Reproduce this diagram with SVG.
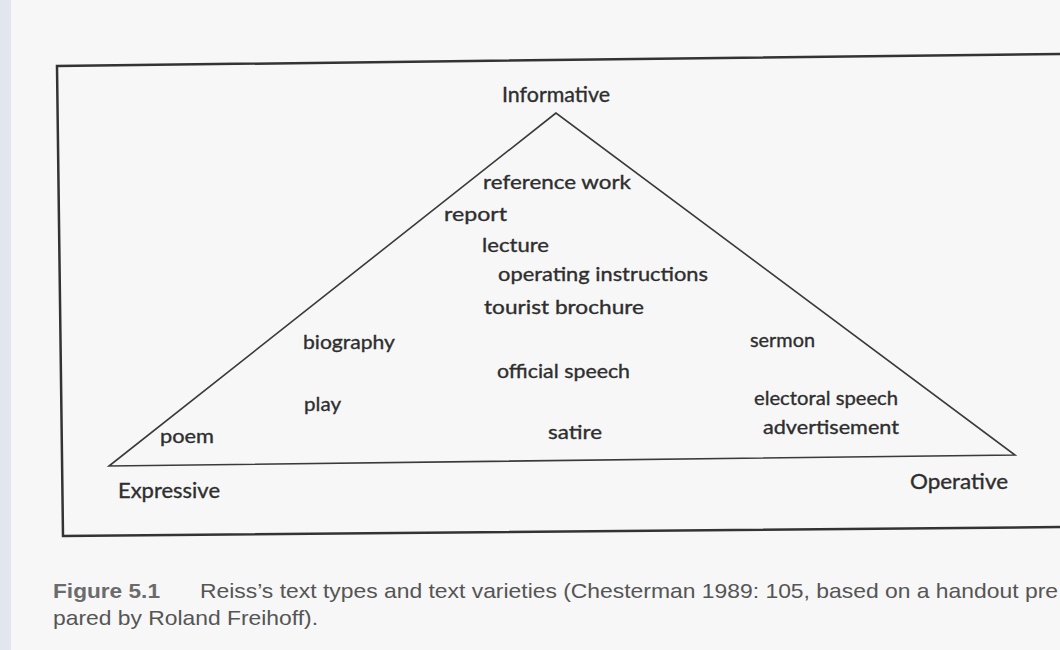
<svg xmlns="http://www.w3.org/2000/svg" width="1060" height="650" viewBox="0 0 1060 650">
<style>
.lbl{font-family:Lato,"Open Sans","Liberation Sans",sans-serif;font-size:20px;fill:#2e2e2e;stroke:#2e2e2e;stroke-width:0.35;}
.pole{font-family:Lato,"Open Sans","Liberation Sans",sans-serif;font-size:21px;fill:#2e2e2e;stroke:#2e2e2e;stroke-width:0.35;}
.cap{font-family:"Liberation Sans",Arial,sans-serif;font-size:21px;fill:#555;}
.capb{font-family:"Liberation Sans",Arial,sans-serif;font-size:21px;font-weight:bold;fill:#6b6b6b;}
.frame{fill:none;stroke:#333;stroke-width:2.5;}
.tri{fill:none;stroke:#3a3a3a;stroke-width:1.6;stroke-linejoin:miter;}
</style>
<rect x="0" y="0" width="1060" height="650" fill="#f7f7f7"/>
<rect x="0" y="0" width="11" height="650" fill="#e2e6ee"/>
<g id="frame">
<path class="frame" d="M1060,54 L57,66 L63,536 L1060,527"/>
</g>
<g id="connectors">
<path class="tri" d="M556,113 L109,466 L1015,455 Z"/>
</g>
<g id="informative"><text class="pole" x="502" y="102" textLength="108" lengthAdjust="spacingAndGlyphs">Informative</text></g>
<g id="expressive"><text class="pole" x="118" y="498" textLength="102" lengthAdjust="spacingAndGlyphs">Expressive</text></g>
<g id="operative"><text class="pole" x="910" y="489" textLength="98" lengthAdjust="spacingAndGlyphs">Operative</text></g>
<g id="reference-work"><text class="lbl" x="483" y="189" textLength="148" lengthAdjust="spacingAndGlyphs">reference work</text></g>
<g id="report"><text class="lbl" x="444" y="221" textLength="63" lengthAdjust="spacingAndGlyphs">report</text></g>
<g id="lecture"><text class="lbl" x="482" y="252" textLength="67" lengthAdjust="spacingAndGlyphs">lecture</text></g>
<g id="operating-instructions"><text class="lbl" x="498" y="281" textLength="210" lengthAdjust="spacingAndGlyphs">operating instructions</text></g>
<g id="tourist-brochure"><text class="lbl" x="484" y="314" textLength="160" lengthAdjust="spacingAndGlyphs">tourist brochure</text></g>
<g id="biography"><text class="lbl" x="303" y="349" textLength="92" lengthAdjust="spacingAndGlyphs">biography</text></g>
<g id="sermon"><text class="lbl" x="750" y="347" textLength="65" lengthAdjust="spacingAndGlyphs">sermon</text></g>
<g id="official-speech"><text class="lbl" x="497" y="378" textLength="133" lengthAdjust="spacingAndGlyphs">official speech</text></g>
<g id="play"><text class="lbl" x="304" y="411" textLength="37" lengthAdjust="spacingAndGlyphs">play</text></g>
<g id="electoral-speech"><text class="lbl" x="754" y="405" textLength="144" lengthAdjust="spacingAndGlyphs">electoral speech</text></g>
<g id="poem"><text class="lbl" x="160" y="443" textLength="54" lengthAdjust="spacingAndGlyphs">poem</text></g>
<g id="satire"><text class="lbl" x="548" y="439" textLength="54" lengthAdjust="spacingAndGlyphs">satire</text></g>
<g id="advertisement"><text class="lbl" x="763" y="434" textLength="136" lengthAdjust="spacingAndGlyphs">advertisement</text></g>
<g id="caption">
<text class="capb" x="53" y="598" textLength="107" lengthAdjust="spacingAndGlyphs">Figure 5.1</text>
<text class="cap" x="200" y="598" textLength="858" lengthAdjust="spacingAndGlyphs">Reiss’s text types and text varieties (Chesterman 1989: 105, based on a handout pre</text>
<text class="cap" x="53" y="625" textLength="265" lengthAdjust="spacingAndGlyphs">pared by Roland Freihoff).</text>
</g>
</svg>
